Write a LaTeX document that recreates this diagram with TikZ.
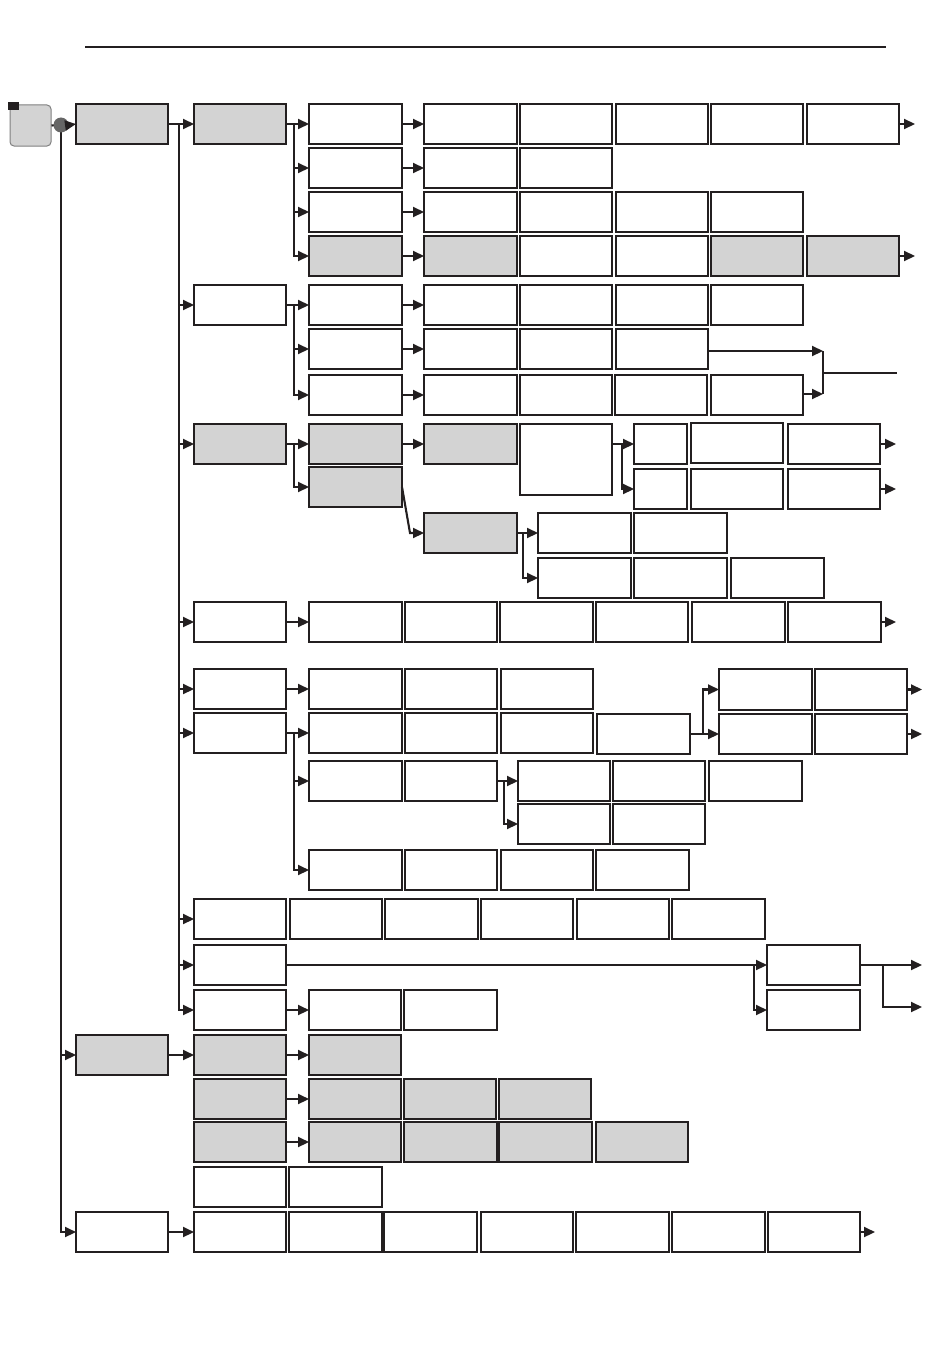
\documentclass[tikz,border=0pt]{standalone}
\usetikzlibrary{arrows.meta}
\definecolor{lc}{HTML}{231F20}
\definecolor{gf}{HTML}{D3D3D3}
\newcommand\bx[6][box]{\node[#1,minimum width={(#5-#3)*0.5pt},minimum height={(#6-#4)*0.5pt}] (#2) at ({(#3+#5)/2},{(#4+#6)/2}) {};}
\begin{document}
\begin{tikzpicture}[x=0.5pt,y=-0.5pt,
  box/.style={draw=lc,line width=0.65pt,inner sep=0pt,outer sep=0pt,fill=white},
  gbox/.style={box,fill=gf},
  ln/.style={draw=lc,line width=1.05pt},
  arr/.style={ln,-{Triangle[length=5.5pt,width=5pt]}}]
\useasboundingbox (0,0) rectangle (950,1370);
\draw[draw=lc,line width=1pt] (85,47) -- (886,47);
% start
\node[draw=gray,fill=gf,rounded corners=2pt,line width=0.5pt,minimum width=20.5pt,minimum height=20.5pt,inner sep=0pt] (S) at (30.5,125.5) {};
\node[fill=lc,minimum width=5.5pt,minimum height=4pt,inner sep=0pt] (sq) at (13.5,106) {};
% level 1
\bx[gbox]{A}{76}{104}{168}{144}
\bx[gbox]{B}{76}{1035}{168}{1075}
\bx{C}{76}{1212}{168}{1252}
\draw[ln] (S.east) -- (61,125) coordinate (dc);
\draw[arr] (dc) |- (B.west);
\draw[arr] (dc) |- (C.west);
\node[circle,fill=black!60,minimum size=7.5pt,inner sep=0pt] (dot) at (61,125) {};
\draw[arr] (dot.east) -- (A.west);
% level 2
\bx[gbox]{P1}{194}{104}{286}{144}
\bx{P2}{194}{285}{286}{325}
\bx[gbox]{P3}{194}{424}{286}{464}
\bx{P4}{194}{602}{286}{642}
\bx{P5}{194}{669}{286}{709}
\bx{P6}{194}{713}{286}{753}
\bx{P7}{194}{899}{286}{939}
\bx{P8}{194}{945}{286}{985}
\bx{P9}{194}{990}{286}{1030}
\draw[arr] (A.east) -- (P1.west);
\foreach \p in {P2,P3,P4,P5,P6,P7,P8,P9}{\draw[arr] (A.east) -- ++(11,0) |- (\p.west);}
% P1 group
\bx{q11}{309}{104}{402}{144}
\bx{q12}{309}{148}{402}{188}
\bx{q13}{309}{192}{402}{232}
\bx[gbox]{q14}{309}{236}{402}{276}
\draw[arr] (P1.east) -- (q11.west);
\foreach \p in {q12,q13,q14}{\draw[arr] (P1.east) -- ++(8,0) |- (\p.west);}
\bx{q11a}{424}{104}{517}{144}\bx{q11b}{520}{104}{612}{144}\bx{q11c}{616}{104}{708}{144}\bx{q11d}{711}{104}{803}{144}\bx{q11e}{807}{104}{899}{144}
\bx{q12a}{424}{148}{517}{188}\bx{q12b}{520}{148}{612}{188}
\bx{q13a}{424}{192}{517}{232}\bx{q13b}{520}{192}{612}{232}\bx{q13c}{616}{192}{708}{232}\bx{q13d}{711}{192}{803}{232}
\bx[gbox]{q14a}{424}{236}{517}{276}\bx{q14b}{520}{236}{612}{276}\bx{q14c}{616}{236}{708}{276}\bx[gbox]{q14d}{711}{236}{803}{276}\bx[gbox]{q14e}{807}{236}{899}{276}
\draw[arr] (q11.east) -- (q11a.west);
\draw[arr] (q12.east) -- (q12a.west);
\draw[arr] (q13.east) -- (q13a.west);
\draw[arr] (q14.east) -- (q14a.west);
\draw[arr] (q11e.east) -- ++(16,0);
\draw[arr] (q14e.east) -- ++(16,0);
% P2 group
\bx{q21}{309}{285}{402}{325}
\bx{q22}{309}{329}{402}{369}
\bx{q23}{309}{375}{402}{415}
\draw[arr] (P2.east) -- (q21.west);
\foreach \p in {q22,q23}{\draw[arr] (P2.east) -- ++(8,0) |- (\p.west);}
\bx{q21a}{424}{285}{517}{325}\bx{q21b}{520}{285}{612}{325}\bx{q21c}{616}{285}{708}{325}\bx{q21d}{711}{285}{803}{325}
\bx{q22a}{424}{329}{517}{369}\bx{q22b}{520}{329}{612}{369}\bx{q22c}{616}{329}{708}{369}
\bx{q23a}{424}{375}{517}{415}\bx{q23b}{520}{375}{612}{415}\bx{q23c}{615}{375}{707}{415}\bx{q23d}{711}{375}{803}{415}
\draw[arr] (q21.east) -- (q21a.west);
\draw[arr] (q22.east) -- (q22a.west);
\draw[arr] (q23.east) -- (q23a.west);
\coordinate (m1) at (823,351);
\coordinate (m2) at (823,394);
\coordinate (mc) at (823,373);
\coordinate (mo) at (897,373);
\draw[arr] (q22c.east|-m1) -- (m1);
\draw[arr] (q23d.east|-m2) -- (m2);
\draw[ln] (m1) -- (m2);
\draw[ln] (mc) -- (mo);
% P3 group
\bx[gbox]{q31}{309}{424}{402}{464}
\bx[gbox]{q32}{309}{467}{402}{507}
\draw[arr] (P3.east) -- (q31.west);
\draw[arr] (P3.east) -- ++(8,0) |- (q32.west);
\bx[gbox]{q31a}{424}{424}{517}{464}
\bx{q31b}{520}{424}{612}{495}
\draw[arr] (q31.east) -- (q31a.west);
\bx{s1}{634}{424}{687}{464}\bx{s1b}{691}{423}{783}{463}\bx{s1c}{788}{424}{880}{464}
\bx{s2}{634}{469}{687}{509}\bx{s2b}{691}{469}{783}{509}\bx{s2c}{788}{469}{880}{509}
\draw[arr] (q31b.east|-s1.west) -- (s1.west);
\draw[arr] (q31b.east|-s1.west) -- ++(10,0) |- (s2.west);
\draw[arr] (s1c.east) -- ++(16,0);
\draw[arr] (s2c.east) -- ++(16,0);
\bx[gbox]{q33}{424}{513}{517}{553}
\draw[arr] (q32.east) -- ++(8,46) -- (q33.west);
\bx{t1}{538}{513}{631}{553}\bx{t1b}{634}{513}{727}{553}
\bx{t2}{538}{558}{631}{598}\bx{t2b}{634}{558}{727}{598}\bx{t2c}{731}{558}{824}{598}
\draw[arr] (q33.east) -- (t1.west);
\draw[arr] (q33.east) -- ++(6,0) |- (t2.west);
% P4 row
\bx{u1}{309}{602}{402}{642}\bx{u2}{405}{602}{497}{642}\bx{u3}{500}{602}{593}{642}\bx{u4}{596}{602}{688}{642}\bx{u5}{692}{602}{785}{642}\bx{u6}{788}{602}{881}{642}
\draw[arr] (P4.east) -- (u1.west);
\draw[arr] (u6.east) -- ++(15,0);
% P5 / P6
\bx{v1}{309}{669}{402}{709}\bx{v2}{405}{669}{497}{709}\bx{v3}{501}{669}{593}{709}
\draw[arr] (P5.east) -- (v1.west);
\bx{w1}{719}{669}{812}{710}\bx{w2}{815}{669}{907}{710}
\draw[arr] (w2.east) -- ++(15,0);
\bx{x1}{309}{713}{402}{753}\bx{x2}{405}{713}{497}{753}\bx{x3}{501}{713}{593}{753}\bx{x4}{597}{714}{690}{754}
\bx{y1}{719}{714}{812}{754}\bx{y2}{815}{714}{907}{754}
\draw[arr] (y2.east) -- ++(15,0);
\draw[arr] (x4.east) -- (y1.west);
\draw[arr] (x4.east) -- ++(13,0) |- (w1.west);
\bx{z1}{309}{761}{402}{801}\bx{z2}{405}{761}{497}{801}
\bx{z3}{518}{761}{610}{801}\bx{z4}{613}{761}{705}{801}\bx{z5}{709}{761}{802}{801}
\bx{z6}{518}{804}{610}{844}\bx{z7}{613}{804}{705}{844}
\draw[arr] (z2.east) -- (z3.west);
\draw[arr] (z2.east) -- ++(7,0) |- (z6.west);
\bx{k1}{309}{850}{402}{890}\bx{k2}{405}{850}{497}{890}\bx{k3}{501}{850}{593}{890}\bx{k4}{596}{850}{689}{890}
\draw[arr] (P6.east) -- (x1.west);
\draw[arr] (P6.east) -- ++(8,0) |- (z1.west);
\draw[arr] (P6.east) -- ++(8,0) |- (k1.west);
% P7 row
\bx{g2}{290}{899}{382}{939}\bx{g3}{385}{899}{478}{939}\bx{g4}{481}{899}{573}{939}\bx{g5}{577}{899}{669}{939}\bx{g6}{672}{899}{765}{939}
% P8
\bx{h1}{767}{945}{860}{985}\bx{h2}{767}{990}{860}{1030}
\draw[arr] (P8.east) -- (h1.west);
\draw[arr] (P8.east) -- ++(468,0) |- (h2.west);
\draw[arr] (h1.east) -- ++(62,0);
\draw[arr] (h1.east) -- ++(23,0) |- ++(39,42);
% P9
\bx{n1}{309}{990}{401}{1030}\bx{n2}{404}{990}{497}{1030}
\draw[arr] (P9.east) -- (n1.west);
% B group
\bx[gbox]{B1}{194}{1035}{286}{1075}
\bx[gbox]{B2}{194}{1079}{286}{1119}
\bx[gbox]{B3}{194}{1122}{286}{1162}
\bx{B4}{194}{1167}{286}{1207}\bx{B5}{289}{1167}{382}{1207}
\draw[arr] (B.east) -- (B1.west);
\bx[gbox]{o1}{309}{1035}{401}{1075}
\bx[gbox]{o2}{309}{1079}{401}{1119}\bx[gbox]{o3}{404}{1079}{496}{1119}\bx[gbox]{o4}{499}{1079}{591}{1119}
\bx[gbox]{o5}{309}{1122}{401}{1162}\bx[gbox]{o6}{404}{1122}{497}{1162}\bx[gbox]{o7}{499}{1122}{592}{1162}\bx[gbox]{o8}{596}{1122}{688}{1162}
\draw[arr] (B1.east) -- (o1.west);
\draw[arr] (B2.east) -- (o2.west);
\draw[arr] (B3.east) -- (o5.west);
% C row
\bx{c1}{194}{1212}{286}{1252}\bx{c2}{289}{1212}{382}{1252}\bx{c3}{384}{1212}{477}{1252}\bx{c4}{481}{1212}{573}{1252}\bx{c5}{576}{1212}{669}{1252}\bx{c6}{672}{1212}{765}{1252}\bx{c7}{768}{1212}{860}{1252}
\draw[arr] (C.east) -- (c1.west);
\draw[arr] (c7.east) -- ++(15,0);
\end{tikzpicture}
\end{document}
